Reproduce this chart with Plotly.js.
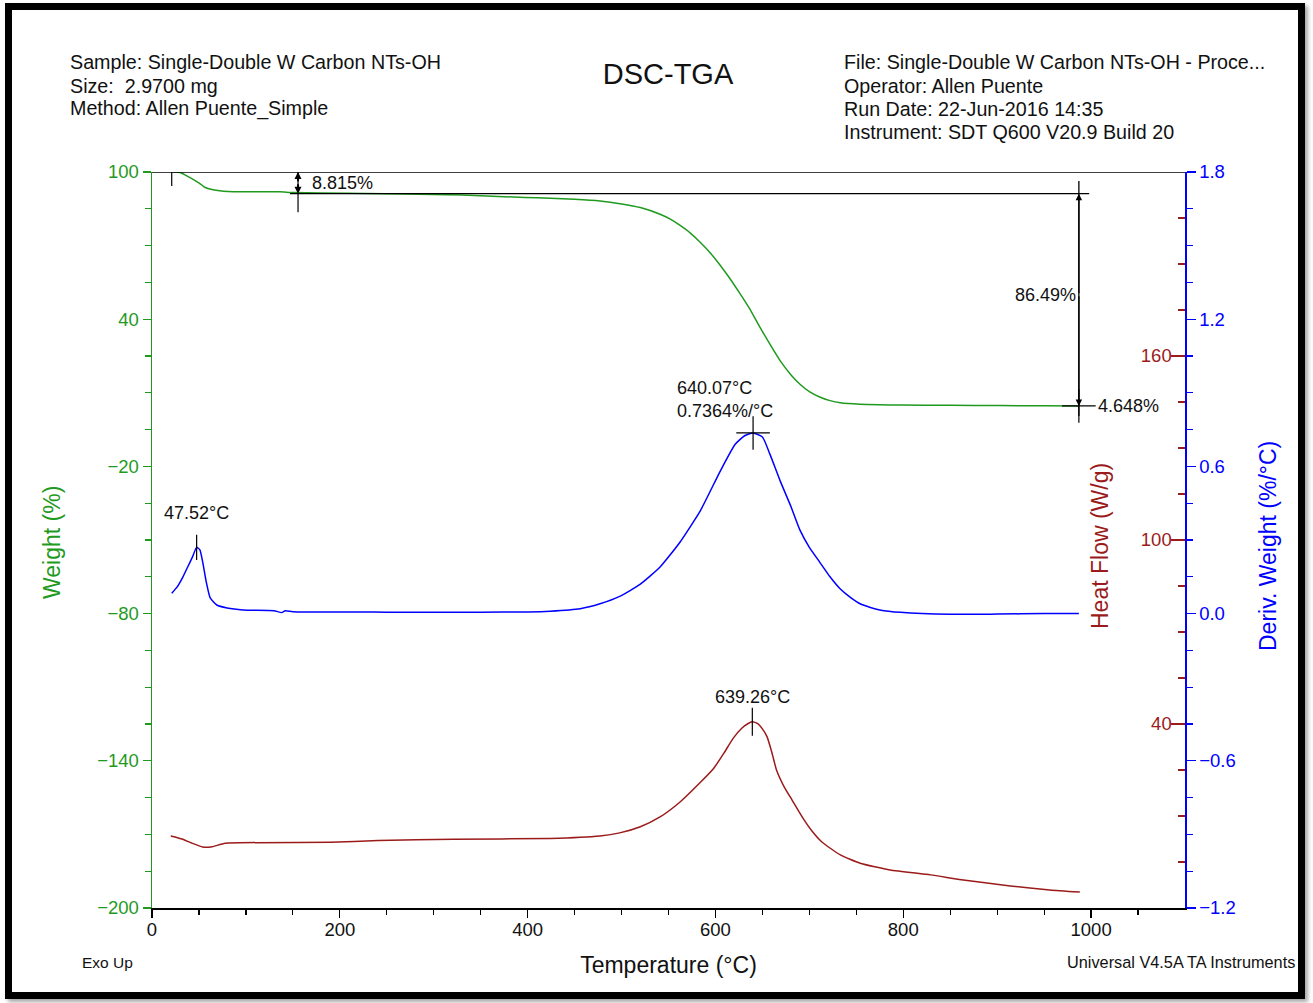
<!DOCTYPE html>
<html>
<head>
<meta charset="utf-8">
<script src="https://cdn.plot.ly/plotly-3.0.1.min.js"></script>
<style>
  html, body { margin: 0; padding: 0; background: #ffffff; }
  #wrap { position: relative; width: 1313px; height: 1003px; overflow: hidden; }
  #chart { position: absolute; left: 0; top: 0; width: 1313px; height: 1003px; }
  #frame { position: absolute; left: 5px; top: 3px; width: 1300px; height: 996px; box-sizing: border-box;
           border: 7px solid #000; pointer-events: none; box-shadow: 3px 3px 4px rgba(0,0,0,0.35); }
</style>
</head>
<body>
<div id="wrap">
  <div id="chart"></div>
  <div id="frame"></div>
</div>
<script>
// ---------------- data ----------------
const tgaTemp   = [21, 30, 38, 46, 51, 56, 65, 81, 136, 150, 207, 330, 397, 424, 450, 477, 500, 520, 541, 552, 562, 573, 584, 595, 605, 615, 626, 636, 647, 658, 669, 680, 690, 700, 711, 722, 733, 754, 775, 797, 850, 903, 950, 987];
const tgaWeight = [100, 99.8, 98.2, 96.5, 95.3, 93.8, 92.8, 92.1, 91.9, 91.6, 91.3, 90.6, 89.6, 89.3, 88.9, 88.2, 87.0, 85.5, 82.8, 80.8, 78.3, 75.2, 71.3, 66.8, 62.0, 56.8, 50.5, 44.5, 37.0, 29.8, 23.0, 17.5, 13.5, 10.5, 8.3, 6.8, 5.9, 5.3, 5.1, 5.0, 4.9, 4.8, 4.7, 4.648];

const dtgTemp = [21, 27, 33, 38, 43, 47.5, 51, 54, 58, 62, 69, 80, 97, 130, 138, 142, 150, 250, 350, 400, 424, 456, 477, 498, 520, 541, 562, 584, 605, 621, 631, 640.07, 650, 658, 669, 680, 690, 700, 711, 722, 733, 744, 754, 765, 775, 797, 850, 900, 950, 987];
const dtgVal  = [0.083, 0.11, 0.15, 0.19, 0.23, 0.27, 0.26, 0.21, 0.125, 0.064, 0.035, 0.023, 0.015, 0.012, 0.004, 0.012, 0.008, 0.006, 0.006, 0.007, 0.01, 0.02, 0.04, 0.07, 0.12, 0.19, 0.29, 0.42, 0.58, 0.69, 0.725, 0.7364, 0.72, 0.65, 0.54, 0.44, 0.34, 0.27, 0.21, 0.15, 0.10, 0.065, 0.04, 0.025, 0.015, 0.005, -0.003, -0.002, 0.0, 0.0];

const hfTemp = [20, 32, 42, 54, 64, 78, 190, 241, 321, 424, 477, 498, 520, 541, 562, 584, 598, 609, 619, 628, 634, 639.26, 645, 650, 655, 660, 665, 673, 681.6, 693, 703, 713, 733, 754, 786, 829, 864, 914, 956, 988];
const hfVal  = [3.5, 2.5, 1.2, -0.1, 0.0, 1.1, 1.4, 2.0, 2.4, 2.7, 3.5, 4.5, 6.5, 9.7, 14.5, 21.0, 25.5, 30.5, 35.4, 38.6, 40.0, 40.7, 40.1, 38.4, 35.8, 30.8, 25.0, 19.6, 15.2, 9.4, 5.0, 1.6, -2.7, -5.4, -7.6, -9.2, -10.9, -12.8, -14.1, -14.8];

// step-change analysis (TGA)
const stepStart = 21;          // °C, start cursor
const stepLimit1 = 155.5;      // °C, first limit
const stepLimit2 = 987;        // °C, second limit
const stepWeights = [100, 91.185, 4.648];   // %
const stepLabels = ["8.815%", "86.49%", "4.648%"];

// peak analysis
const dtgPeakTemps = [47.52, 640.07];
const dtgPeakVals  = [0.27, 0.7364];
const hfPeakTemp = 639.26, hfPeakVal = 40.7;

// axis ticks
const xTicks = [0, 200, 400, 600, 800, 1000];
const hfTicks = [40, 100, 160];

// ---------------- layout helpers ----------------
const W = 1313, H = 1003, L = 152, R = 128, T = 172, B = 95;
const PW = W - L - R, PH = H - T - B;
const px = v => (v - L) / PW;          // page pixel -> paper x
const py = v => (H - B - v) / PH;      // page pixel -> paper y

const FONT = "Liberation Sans, Arial, sans-serif";
const GREEN = "#1f9a1f", BLUE = "#0000ff", RED = "#9b1b1b";
const INK = "#111";

function cursor(x, y, axis, symbol, size) {
  return { x: [x], y: [y], type: "scatter", mode: "markers", yaxis: axis, hoverinfo: "skip",
           marker: { symbol: symbol, size: size, color: "#000", line: { color: "#000", width: 1.2 } } };
}

const traces = [
  { x: tgaTemp, y: tgaWeight, type: "scatter", mode: "lines", yaxis: "y",
    line: { color: GREEN, width: 1.5, shape: "spline", smoothing: 0.5 }, hoverinfo: "skip" },
  { x: dtgTemp, y: dtgVal, type: "scatter", mode: "lines", yaxis: "y3",
    line: { color: BLUE, width: 1.5, shape: "spline", smoothing: 0.5 }, hoverinfo: "skip" },
  { x: hfTemp, y: hfVal, type: "scatter", mode: "lines", yaxis: "y2",
    line: { color: RED, width: 1.5, shape: "spline", smoothing: 0.5 }, hoverinfo: "skip" },
  // peak cursors
  cursor(dtgPeakTemps[1], dtgPeakVals[1], "y3", "cross-thin-open", 24),
  cursor(dtgPeakTemps[0], dtgPeakVals[0], "y3", "line-ns-open", 18),
  cursor(hfPeakTemp, hfPeakVal, "y2", "line-ns-open", 20),
  // step cursors
  cursor(stepStart, stepWeights[0], "y", "line-ns-open", 20),
  cursor(stepLimit1, (stepWeights[0] + stepWeights[1]) / 2, "y", "line-ns-open", 42),
  cursor(stepLimit2, stepWeights[2], "y", "cross-thin-open", 24),
];

const shapes = [
  { type: "line", xref: "x", yref: "y", x0: 0, x1: 1100, y0: stepWeights[0], y1: stepWeights[0],
    line: { color: "#000", width: 1.3 } },
  { type: "line", xref: "x", yref: "y", x0: 147, x1: 998, y0: stepWeights[1], y1: stepWeights[1],
    line: { color: "#000", width: 1.3 } },
  { type: "line", xref: "x", yref: "y", x0: stepLimit2, x1: stepLimit2, y0: 96.3, y1: 0.5,
    line: { color: "#000", width: 1.3 } },
];

const arrowBase = { xref: "x", yref: "y", axref: "x", ayref: "y", text: "", showarrow: true,
  arrowhead: 2, arrowsize: 1, arrowwidth: 1.3, arrowcolor: "#000" };

function txt(x, y, text, size, anchor, color) {
  return { xref: "paper", yref: "paper", x: px(x), y: py(y), xanchor: anchor || "left", yanchor: "middle",
           showarrow: false, text: text, font: { family: FONT, size: size, color: color || INK } };
}
function vtxt(x, y, text, size, color) {
  return { xref: "paper", yref: "paper", x: px(x), y: py(y), xanchor: "center", yanchor: "middle",
           showarrow: false, textangle: -90, text: text, font: { family: FONT, size: size, color: color } };
}

const HDR = 19.7;
const annotations = [
  txt(68, 62, "Sample: Single-Double W Carbon NTs-OH", HDR),
  txt(68, 86, "Size:  2.9700 mg", HDR),
  txt(68, 109, "Method: Allen Puente_Simple", HDR),
  txt(842, 62, "File: Single-Double W Carbon NTs-OH - Proce...", HDR),
  txt(842, 86, "Operator: Allen Puente", HDR),
  txt(842, 109, "Run Date: 22-Jun-2016 14:35", HDR),
  txt(842, 132, "Instrument: SDT Q600 V20.9 Build 20", HDR),
  txt(80, 962, "Exo Up", 15.5),
  txt(1297, 962, "Universal V4.5A TA Instruments", 16.3, "right"),
  vtxt(52, 543, "Weight (%)", 23, GREEN),
  vtxt(1100, 546, "Heat Flow (W/g)", 23, RED),
  vtxt(1268, 546, "Deriv. Weight (%/°C)", 23, BLUE),
  // peak labels
  { xref: "x", yref: "y3", x: dtgPeakTemps[0], y: dtgPeakVals[0], yshift: 22, xanchor: "center", yanchor: "bottom", showarrow: false,
    text: dtgPeakTemps[0].toFixed(2) + "°C", font: { family: FONT, size: 18, color: INK } },
  { xref: "x", yref: "y3", x: dtgPeakTemps[1], y: dtgPeakVals[1], xshift: -28, yshift: 10, xanchor: "center", yanchor: "bottom", showarrow: false, align: "left",
    text: dtgPeakTemps[1].toFixed(2) + "°C<br>" + dtgPeakVals[1].toFixed(4) + "%/°C", font: { family: FONT, size: 18, color: INK } },
  { xref: "x", yref: "y2", x: hfPeakTemp, y: hfPeakVal, yshift: 13, xanchor: "center", yanchor: "bottom", showarrow: false,
    text: hfPeakTemp.toFixed(2) + "°C", font: { family: FONT, size: 18, color: INK } },
  // step labels
  { xref: "x", yref: "y", x: stepLimit1, y: (stepWeights[0] + stepWeights[1]) / 2, xshift: 12, xanchor: "left", yanchor: "middle", showarrow: false,
    text: stepLabels[0], font: { family: FONT, size: 18, color: INK } },
  { xref: "x", yref: "y", x: stepLimit2, y: (stepWeights[1] + stepWeights[2]) / 2 + 2, xshift: -1, xanchor: "right", yanchor: "middle", showarrow: false,
    text: stepLabels[1], font: { family: FONT, size: 18, color: INK } },
  { xref: "x", yref: "y", x: stepLimit2, y: stepWeights[2], xshift: 17, xanchor: "left", yanchor: "middle", showarrow: false,
    text: stepLabels[2], font: { family: FONT, size: 18, color: INK } },
  // arrows
  Object.assign({}, arrowBase, { x: stepLimit2, y: stepWeights[1], ax: stepLimit2, ay: 50 }),
  Object.assign({}, arrowBase, { x: stepLimit2, y: stepWeights[2], ax: stepLimit2, ay: 50 }),
  Object.assign({}, arrowBase, { x: stepLimit1, y: stepWeights[0], ax: stepLimit1, ay: 95.6, arrowsize: 0.7, arrowwidth: 2 }),
  Object.assign({}, arrowBase, { x: stepLimit1, y: stepWeights[1], ax: stepLimit1, ay: 95.6, arrowsize: 0.7, arrowwidth: 2 }),
];

const tickFont = { family: FONT, size: 18.5 };

const layout = {
  width: W, height: H, autosize: false,
  margin: { l: L, r: R, t: T, b: B, pad: 0 },
  paper_bgcolor: "#ffffff", plot_bgcolor: "#ffffff",
  showlegend: false,
  title: { text: "DSC-TGA", xref: "container", x: 668 / W, xanchor: "center", yref: "container", y: 1 - 74 / H, yanchor: "middle",
           font: { family: FONT, size: 29, color: INK } },
  xaxis: {
    range: [0, 1100], tickvals: xTicks, ticks: "outside", ticklen: 8, tickwidth: 1.2, tickcolor: "#000",
    ticklabelstandoff: -4,
    showline: true, linecolor: "#000", linewidth: 1.5, showgrid: false, zeroline: false,
    tickfont: Object.assign({ color: INK }, tickFont),
    minor: { dtick: 50, tick0: 0, ticks: "outside", ticklen: 5, tickcolor: "#000", showgrid: false },
    title: { text: "Temperature (°C)", font: { family: FONT, size: 23, color: INK }, standoff: 18 },
  },
  yaxis: {
    range: [-200, 100], tick0: -200, dtick: 60, ticks: "outside", ticklen: 8, tickwidth: 1.2, tickcolor: GREEN,
    showline: true, linecolor: GREEN, linewidth: 1.5, showgrid: false, zeroline: false,
    tickfont: Object.assign({ color: GREEN }, tickFont),
    minor: { dtick: 15, tick0: -200, ticks: "outside", ticklen: 6, tickcolor: GREEN, showgrid: false },
  },
  yaxis2: {
    range: [-20, 220], tickvals: hfTicks, overlaying: "y", side: "right", anchor: "x",
    ticks: "inside", ticklabelposition: "inside", ticklen: 14, tickwidth: 1.2, tickcolor: RED,
    showline: false, showgrid: false, zeroline: false,
    tickfont: Object.assign({ color: RED }, tickFont),
    minor: { dtick: 15, tick0: -20, ticks: "inside", ticklen: 7, tickcolor: RED, showgrid: false },
  },
  yaxis3: {
    range: [-1.2, 1.8], tick0: -1.2, dtick: 0.6, tickformat: ".1f", overlaying: "y", side: "right", anchor: "x",
    ticks: "outside", ticklen: 9, tickwidth: 1.2, tickcolor: BLUE,
    showline: true, linecolor: BLUE, linewidth: 1.5, showgrid: false, zeroline: false,
    tickfont: Object.assign({ color: BLUE }, tickFont),
    minor: { dtick: 0.15, tick0: -1.2, ticks: "outside", ticklen: 6, tickcolor: BLUE, showgrid: false },
  },
  shapes: shapes,
  annotations: annotations,
};

Plotly.newPlot("chart", traces, layout, { staticPlot: true, displayModeBar: false });
</script>
</body>
</html>
